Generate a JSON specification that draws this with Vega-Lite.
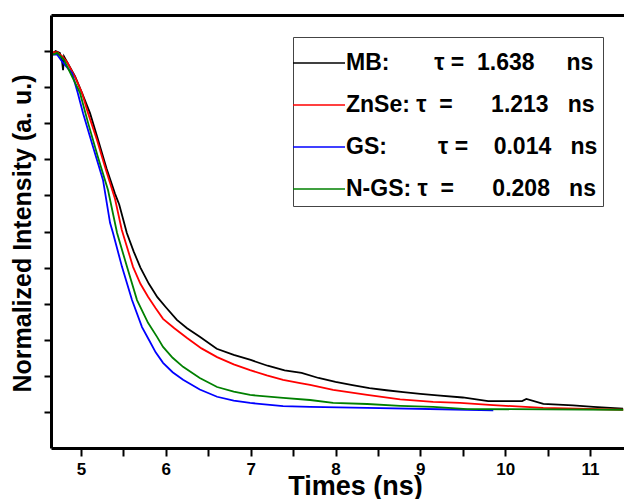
{
  "$schema": "https://vega.github.io/schema/vega-lite/v6.json",
  "width": 573,
  "height": 433,
  "autosize": {"type": "none"},
  "padding": {"left": 51, "top": 15, "right": 0, "bottom": 51},
  "background": "white",
  "config": {
    "view": {"stroke": null},
    "font": "Liberation Sans"
  },
  "data": {
    "values": [
      {"s": "MB", "t": 4.67, "v": 0.994},
      {"s": "MB", "t": 4.70, "v": 1.0},
      {"s": "MB", "t": 4.75, "v": 0.995},
      {"s": "MB", "t": 4.775, "v": 0.975},
      {"s": "MB", "t": 4.788, "v": 0.947},
      {"s": "MB", "t": 4.80, "v": 0.985},
      {"s": "MB", "t": 4.84, "v": 0.968},
      {"s": "MB", "t": 4.93, "v": 0.93},
      {"s": "MB", "t": 5.01, "v": 0.885},
      {"s": "MB", "t": 5.106, "v": 0.828},
      {"s": "MB", "t": 5.20, "v": 0.755},
      {"s": "MB", "t": 5.30, "v": 0.675},
      {"s": "MB", "t": 5.40, "v": 0.605},
      {"s": "MB", "t": 5.45, "v": 0.575},
      {"s": "MB", "t": 5.54, "v": 0.496},
      {"s": "MB", "t": 5.62, "v": 0.445},
      {"s": "MB", "t": 5.70, "v": 0.400},
      {"s": "MB", "t": 5.80, "v": 0.355},
      {"s": "MB", "t": 5.90, "v": 0.318},
      {"s": "MB", "t": 6.00, "v": 0.29},
      {"s": "MB", "t": 6.13, "v": 0.255},
      {"s": "MB", "t": 6.25, "v": 0.232},
      {"s": "MB", "t": 6.40, "v": 0.208},
      {"s": "MB", "t": 6.60, "v": 0.175},
      {"s": "MB", "t": 6.80, "v": 0.158},
      {"s": "MB", "t": 7.00, "v": 0.144},
      {"s": "MB", "t": 7.20, "v": 0.128},
      {"s": "MB", "t": 7.40, "v": 0.115},
      {"s": "MB", "t": 7.60, "v": 0.108},
      {"s": "MB", "t": 7.80, "v": 0.094},
      {"s": "MB", "t": 8.00, "v": 0.083},
      {"s": "MB", "t": 8.20, "v": 0.074},
      {"s": "MB", "t": 8.40, "v": 0.066},
      {"s": "MB", "t": 8.60, "v": 0.06},
      {"s": "MB", "t": 8.80, "v": 0.055},
      {"s": "MB", "t": 9.00, "v": 0.05},
      {"s": "MB", "t": 9.20, "v": 0.046},
      {"s": "MB", "t": 9.50, "v": 0.04},
      {"s": "MB", "t": 9.80, "v": 0.03},
      {"s": "MB", "t": 10.0, "v": 0.03},
      {"s": "MB", "t": 10.2, "v": 0.03},
      {"s": "MB", "t": 10.25, "v": 0.036},
      {"s": "MB", "t": 10.45, "v": 0.022},
      {"s": "MB", "t": 10.8, "v": 0.018},
      {"s": "MB", "t": 11.04, "v": 0.014},
      {"s": "MB", "t": 11.39, "v": 0.009},

      {"s": "ZnSe", "t": 4.67, "v": 0.997},
      {"s": "ZnSe", "t": 4.72, "v": 0.997},
      {"s": "ZnSe", "t": 4.78, "v": 0.985},
      {"s": "ZnSe", "t": 4.835, "v": 0.970},
      {"s": "ZnSe", "t": 4.93, "v": 0.928},
      {"s": "ZnSe", "t": 5.012, "v": 0.884},
      {"s": "ZnSe", "t": 5.083, "v": 0.828},
      {"s": "ZnSe", "t": 5.189, "v": 0.753},
      {"s": "ZnSe", "t": 5.283, "v": 0.679},
      {"s": "ZnSe", "t": 5.401, "v": 0.590},
      {"s": "ZnSe", "t": 5.48, "v": 0.505},
      {"s": "ZnSe", "t": 5.613, "v": 0.402},
      {"s": "ZnSe", "t": 5.70, "v": 0.355},
      {"s": "ZnSe", "t": 5.79, "v": 0.319},
      {"s": "ZnSe", "t": 5.88, "v": 0.287},
      {"s": "ZnSe", "t": 5.967, "v": 0.258},
      {"s": "ZnSe", "t": 6.10, "v": 0.232},
      {"s": "ZnSe", "t": 6.25, "v": 0.205},
      {"s": "ZnSe", "t": 6.42, "v": 0.176},
      {"s": "ZnSe", "t": 6.604, "v": 0.152},
      {"s": "ZnSe", "t": 6.80, "v": 0.132},
      {"s": "ZnSe", "t": 6.993, "v": 0.116},
      {"s": "ZnSe", "t": 7.19, "v": 0.101},
      {"s": "ZnSe", "t": 7.382, "v": 0.089},
      {"s": "ZnSe", "t": 7.583, "v": 0.080},
      {"s": "ZnSe", "t": 7.70, "v": 0.075},
      {"s": "ZnSe", "t": 7.972, "v": 0.061},
      {"s": "ZnSe", "t": 8.373, "v": 0.047},
      {"s": "ZnSe", "t": 8.762, "v": 0.035},
      {"s": "ZnSe", "t": 9.151, "v": 0.028},
      {"s": "ZnSe", "t": 9.469, "v": 0.025},
      {"s": "ZnSe", "t": 9.858, "v": 0.019},
      {"s": "ZnSe", "t": 10.448, "v": 0.011},
      {"s": "ZnSe", "t": 11.392, "v": 0.006},

      {"s": "GS", "t": 4.67, "v": 0.99},
      {"s": "GS", "t": 4.72, "v": 0.99},
      {"s": "GS", "t": 4.78, "v": 0.97},
      {"s": "GS", "t": 4.894, "v": 0.939},
      {"s": "GS", "t": 4.96, "v": 0.885},
      {"s": "GS", "t": 5.024, "v": 0.828},
      {"s": "GS", "t": 5.142, "v": 0.734},
      {"s": "GS", "t": 5.259, "v": 0.643},
      {"s": "GS", "t": 5.342, "v": 0.524},
      {"s": "GS", "t": 5.377, "v": 0.496},
      {"s": "GS", "t": 5.483, "v": 0.402},
      {"s": "GS", "t": 5.601, "v": 0.31},
      {"s": "GS", "t": 5.719, "v": 0.235},
      {"s": "GS", "t": 5.80, "v": 0.20},
      {"s": "GS", "t": 5.88, "v": 0.165},
      {"s": "GS", "t": 5.967, "v": 0.136},
      {"s": "GS", "t": 6.08, "v": 0.110},
      {"s": "GS", "t": 6.203, "v": 0.089},
      {"s": "GS", "t": 6.40, "v": 0.062},
      {"s": "GS", "t": 6.604, "v": 0.042},
      {"s": "GS", "t": 6.80, "v": 0.031},
      {"s": "GS", "t": 6.993, "v": 0.025},
      {"s": "GS", "t": 7.382, "v": 0.016},
      {"s": "GS", "t": 7.70, "v": 0.014},
      {"s": "GS", "t": 8.373, "v": 0.011},
      {"s": "GS", "t": 9.552, "v": 0.006},
      {"s": "GS", "t": 9.86, "v": 0.004},

      {"s": "N-GS", "t": 4.67, "v": 0.99},
      {"s": "N-GS", "t": 4.72, "v": 0.995},
      {"s": "N-GS", "t": 4.80, "v": 0.975},
      {"s": "N-GS", "t": 4.988, "v": 0.884},
      {"s": "N-GS", "t": 5.083, "v": 0.801},
      {"s": "N-GS", "t": 5.20, "v": 0.706},
      {"s": "N-GS", "t": 5.318, "v": 0.615},
      {"s": "N-GS", "t": 5.425, "v": 0.496},
      {"s": "N-GS", "t": 5.542, "v": 0.402},
      {"s": "N-GS", "t": 5.66, "v": 0.31},
      {"s": "N-GS", "t": 5.79, "v": 0.247},
      {"s": "N-GS", "t": 5.896, "v": 0.208},
      {"s": "N-GS", "t": 5.967, "v": 0.18},
      {"s": "N-GS", "t": 6.08, "v": 0.150},
      {"s": "N-GS", "t": 6.203, "v": 0.125},
      {"s": "N-GS", "t": 6.40, "v": 0.094},
      {"s": "N-GS", "t": 6.604, "v": 0.069},
      {"s": "N-GS", "t": 6.80, "v": 0.056},
      {"s": "N-GS", "t": 6.993, "v": 0.047},
      {"s": "N-GS", "t": 7.382, "v": 0.039},
      {"s": "N-GS", "t": 7.70, "v": 0.033},
      {"s": "N-GS", "t": 7.972, "v": 0.025},
      {"s": "N-GS", "t": 8.373, "v": 0.022},
      {"s": "N-GS", "t": 8.762, "v": 0.017},
      {"s": "N-GS", "t": 9.151, "v": 0.014},
      {"s": "N-GS", "t": 9.552, "v": 0.008},
      {"s": "N-GS", "t": 11.392, "v": 0.006}
    ]
  },
  "layer": [
    {
      "mark": {"type": "line", "strokeWidth": 1.8, "clip": true},
      "encoding": {
        "x": {
          "field": "t", "type": "quantitative",
          "scale": {"domain": [4.646, 11.401], "nice": false, "zero": false},
          "axis": {
            "values": [5, 5.5, 6, 6.5, 7, 7.5, 8, 8.5, 9, 9.5, 10, 10.5, 11],
            "labelExpr": "datum.value % 1 == 0 ? format(datum.value, 'd') : ''",
            "title": "Times (ns)",
            "grid": false,
            "domainColor": "black", "domainWidth": 3,
            "tickColor": "black", "tickWidth": 2, "tickSize": 8,
            "labelColor": "black", "labelFont": "Liberation Sans", "labelFontWeight": "bold", "labelFontSize": 17, "labelPadding": 5,
            "titleColor": "black", "titleFont": "Liberation Sans", "titleFontWeight": "bold", "titleFontSize": 27,
            "titleX": 304, "titleY": 46, "titleBaseline": "alphabetic", "titleAlign": "center"
          }
        },
        "y": {
          "field": "v", "type": "quantitative",
          "scale": {"domain": [-0.1, 1.1], "nice": false, "zero": false},
          "axis": {
            "values": [0, 0.1, 0.2, 0.3, 0.4, 0.5, 0.6, 0.7, 0.8, 0.9, 1.0],
            "labels": false,
            "title": "Normalized Intensity (a. u.)",
            "grid": false,
            "domainColor": "black", "domainWidth": 3,
            "tickColor": "black", "tickWidth": 2, "tickSize": 7,
            "titleColor": "black", "titleFont": "Liberation Sans", "titleFontWeight": "bold", "titleFontSize": 25,
            "titlePadding": 8, "titleY": 218, "titleAlign": "center"
          }
        },
        "color": {
          "field": "s", "type": "nominal",
          "scale": {"domain": ["MB", "ZnSe", "GS", "N-GS"], "range": ["#000000", "#ff0000", "#0000ff", "#008000"]},
          "legend": {
            "title": null,
            "orient": "none", "legendX": 242, "legendY": 22,
            "strokeColor": "#444444", "fillColor": "white", "padding": 5,
            "symbolType": "M-1.3,0H1.3", "symbolSize": 1600, "symbolStrokeWidth": 1.5,
            "rowPadding": 9, "labelOffset": 6, "labelLimit": 0,
            "labelFont": "Liberation Sans", "labelFontWeight": "bold", "labelFontSize": 23, "labelColor": "black",
            "labelExpr": "datum.label == 'MB' ? 'MB:\u00a0\u00a0\u00a0\u00a0\u00a0\u00a0\u00a0τ =\u00a0\u00a01.638\u00a0\u00a0\u00a0\u00a0\u00a0ns' : datum.label == 'ZnSe' ? '\u00a0ZnSe: τ\u00a0\u00a0=\u00a0\u00a0\u00a0\u00a0\u00a0\u00a01.213\u00a0\u00a0\u00a0ns' : datum.label == 'GS' ? 'GS:\u00a0\u00a0\u00a0\u00a0\u00a0\u00a0\u00a0\u00a0τ =\u00a0\u00a0\u00a0\u00a00.014\u00a0\u00a0\u00a0ns' : 'N-GS: τ\u00a0\u00a0=\u00a0\u00a0\u00a0\u00a0\u00a0\u00a00.208\u00a0\u00a0\u00a0ns'"
          }
        }
      }
    },
    {
      "mark": {"type": "point", "opacity": 0},
      "encoding": {
        "x": {
          "field": "t", "type": "quantitative",
          "axis": {"orient": "top", "labels": false, "ticks": false, "title": null, "grid": false, "domainColor": "black", "domainWidth": 3}
        }
      }
    }
  ],
  "resolve": {"axis": {"x": "independent"}}
}
